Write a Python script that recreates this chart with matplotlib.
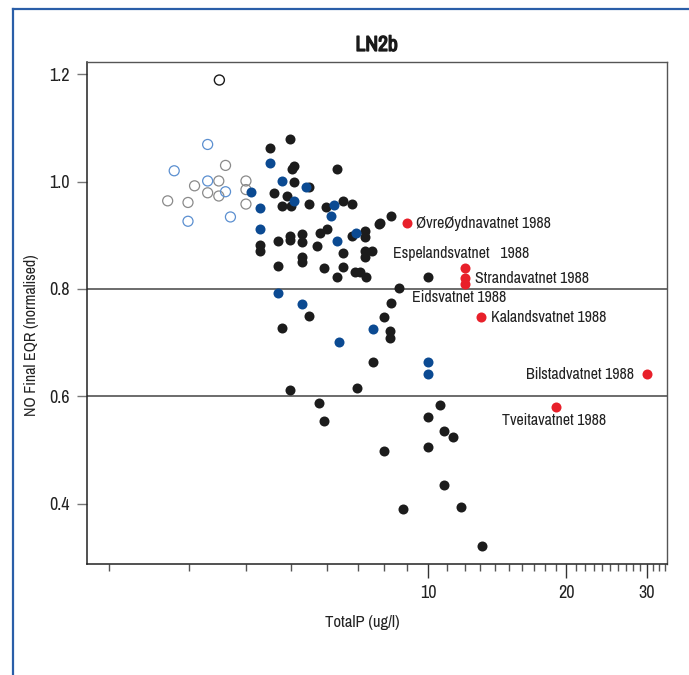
import matplotlib.pyplot as plt
import matplotlib.patheffects as pe
from matplotlib.lines import Line2D
from matplotlib.ticker import FixedLocator, FixedFormatter, NullFormatter

# open circles (earlier samples)
open_grey_x = [2.69, 2.98, 3.08, 3.29, 3.48, 3.48, 3.60, 3.99, 3.99, 3.99]
open_grey_y = [0.964, 0.961, 0.992, 0.979, 1.001, 0.973, 1.030, 1.001, 0.985, 0.958]
open_black_x = [3.49]
open_black_y = [1.189]
open_blue_x = [3.29, 2.78, 3.29, 3.60, 2.98, 3.69]
open_blue_y = [1.069, 1.020, 1.001, 0.981, 0.926, 0.934]

# filled blue
blue_x = [4.09, 4.28, 4.51, 4.28, 4.78, 5.40, 5.09, 6.23, 6.11, 6.94, 6.32,
          4.70, 5.28, 7.58, 6.39, 10.0, 10.0]
blue_y = [0.981, 0.951, 1.035, 0.912, 1.001, 0.990, 0.964, 0.956, 0.936, 0.904,
          0.889, 0.792, 0.772, 0.725, 0.701, 0.664, 0.642]

# filled black
black_x = [4.50, 4.60, 4.29, 4.29, 4.69, 4.98, 5.02, 5.09, 6.32, 5.08, 5.48,
           4.90, 5.48, 4.78, 5.00, 5.97, 6.50, 6.82, 8.29, 7.79, 5.99, 5.78,
           7.27, 7.27, 6.80, 4.98, 4.98, 5.28, 5.28, 5.70, 6.51, 7.27, 7.52,
           5.28, 5.28, 7.27, 4.70, 5.91, 6.51, 6.91, 7.09, 6.32, 7.30, 10.0,
           8.63, 8.29, 5.48, 8.00, 4.78, 8.25, 8.25, 7.58, 4.98, 6.97, 5.77,
           5.91, 10.6, 10.0, 10.84, 11.31, 8.00, 10.0, 10.84, 8.79, 11.81,
           13.11, 7.84]
black_y = [1.063, 0.979, 0.882, 0.871, 0.889, 1.079, 1.023, 1.028, 1.023, 1.000,
           0.989, 0.973, 0.958, 0.954, 0.954, 0.953, 0.964, 0.958, 0.936, 0.920,
           0.911, 0.904, 0.908, 0.897, 0.899, 0.899, 0.891, 0.902, 0.888, 0.880,
           0.867, 0.871, 0.871, 0.859, 0.851, 0.859, 0.843, 0.839, 0.841, 0.832,
           0.832, 0.823, 0.823, 0.822, 0.801, 0.773, 0.750, 0.747, 0.727, 0.722,
           0.709, 0.664, 0.612, 0.615, 0.587, 0.554, 0.584, 0.562, 0.535, 0.525,
           0.499, 0.506, 0.435, 0.391, 0.393, 0.321, 0.923]

# red, labelled lakes
red_x = [9.00, 12.03, 12.03, 12.03, 13.02, 30.06, 19.03]
red_y = [0.922, 0.839, 0.820, 0.810, 0.747, 0.641, 0.580]
red_labels = ['ØvreØydnavatnet 1988', 'Espelandsvatnet   1988', 'Strandavatnet 1988',
              'Eidsvatnet 1988', 'Kalandsvatnet 1988', 'Bilstadvatnet 1988',
              'Tveitavatnet 1988']

FONT = ['Archivo Narrow', 'Liberation Sans', 'DejaVu Sans']
plt.rcParams['font.family'] = FONT

fig = plt.figure(figsize=(6.89, 6.75), dpi=100)
ax = fig.add_axes([0.1258, 0.1644, 0.8418, 0.7437])

ms = 52
ax.scatter(open_grey_x, open_grey_y, s=ms, facecolors='none', edgecolors='#8a8a8a', linewidths=0.9)
ax.scatter(open_blue_x, open_blue_y, s=ms, facecolors='none', edgecolors='#5b8fd0', linewidths=0.9)
ax.scatter(open_black_x, open_black_y, s=ms, facecolors='none', edgecolors='#1a1a1a', linewidths=1.0)
ax.scatter(black_x, black_y, s=ms, color='#1c1c1c', linewidths=0)
ax.scatter(blue_x, blue_y, s=ms, color='#0b4a92', linewidths=0)
ax.scatter(red_x, red_y, s=ms, color='#e8202a', linewidths=0)

offsets = [(9, 0, 'left'), (-72, 14, 'left'), (10, 0, 'left'), (-53, -14, 'left'),
           (10, 0, 'left'), (-13, 0, 'right'), (-54, -13, 'left')]
for x, y, lab, (dx, dy, ha) in zip(red_x, red_y, red_labels, offsets):
    ax.annotate(lab, (x, y), xytext=(dx, dy), textcoords='offset pixels',
                ha=ha, va='center', fontsize=11.5, color='#222222')

for yl in (0.8, 0.6):
    ax.axhline(yl, color='#444444', lw=1.1, zorder=0)

ax.set_xscale('log')
ax.set_xlim(1.789, 33.2)
ax.set_ylim(0.2877, 1.2225)

ax.xaxis.set_major_locator(FixedLocator([10, 20, 30]))
ax.xaxis.set_major_formatter(FixedFormatter(['10', '20', '30']))
minor = [v for v in range(2, 34) if v not in (10, 20, 30)]
ax.xaxis.set_minor_locator(FixedLocator(minor))
ax.xaxis.set_minor_formatter(NullFormatter())
ax.set_yticks([0.4, 0.6, 0.8, 1.0, 1.2])
ax.set_yticklabels(['0.4', '0.6', '0.8', '1.0', '1.2'])

ax.tick_params(axis='x', which='major', length=10, width=1, color='#333333',
               labelsize=13, labelcolor='#222222', pad=5)
ax.tick_params(axis='x', which='minor', length=5, width=1, color='#555555')
ax.tick_params(axis='y', length=7, width=1, color='#777777', labelsize=13,
               labelcolor='#222222', pad=5)

for side in ('left', 'bottom'):
    ax.spines[side].set_color('#222222')
    ax.spines[side].set_linewidth(1.1)
for side in ('top', 'right'):
    ax.spines[side].set_color('#555555')
    ax.spines[side].set_linewidth(1.0)

title = ax.set_title('LN2b', fontsize=15.5, fontweight='bold', pad=8, color='#1a1a1a')
title.set_path_effects([pe.withStroke(linewidth=1.0, foreground='#1a1a1a')])
ax.set_xlabel('TotalP (ug/l)', fontsize=12, color='#222222', va='center')
ax.xaxis.set_label_coords(0.4747, -0.1155)
ax.set_ylabel('NO Final EQR (normalised)', fontsize=11.5, color='#222222', va='center')
ax.yaxis.set_label_coords(-0.0948, 0.456)

# blue page frame
fig.add_artist(Line2D([13 / 689, 1], [1 - 9 / 675, 1 - 9 / 675], color='#2a5ea8', lw=1.6))
fig.add_artist(Line2D([13 / 689, 13 / 689], [0, 1 - 9 / 675], color='#2a5ea8', lw=1.6))

fig.savefig('out.png', dpi=100)
